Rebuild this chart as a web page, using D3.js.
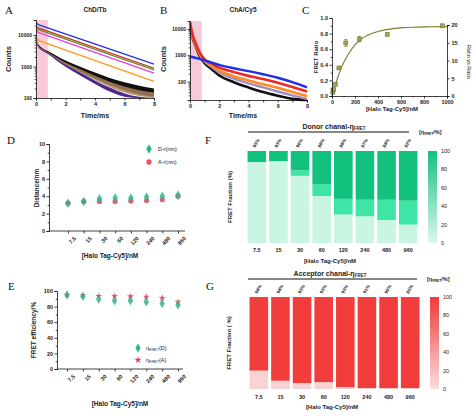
<!DOCTYPE html>
<html><head><meta charset="utf-8">
<script src="https://cdn.jsdelivr.net/npm/d3@7"></script>
<style>
body{margin:0;background:#fff}
svg{display:block;font-family:"Liberation Sans",Arial,sans-serif}
</style></head><body>
<svg id="c" width="474" height="416"></svg>
<script>
// ---------------- DATA ----------------
// Panel A (ChD/Tb) – slow single-exponential donor decays
const aSlowTimes = [0, 0.2, 8];
const aBlue    = [24000, 21000, 1200];
const aRed     = [18000, 16500, 880];
const aGreen   = [16000, 14500, 780];
const aMagenta = [13500, 12000, 620];
const aOrange  = [8500, 6600, 340];
// Panel A – noisy fast-decaying curves (bands lo/hi)
const aBandTimes = [0, 0.05, 0.1, 0.2, 0.4, 0.8, 1.5, 2, 3, 4, 5, 6, 7, 8];
const aBlackHi  = [30000, 9000, 5800, 4700, 3900, 3100, 2050, 1550, 980, 640, 430, 315, 245, 200];
const aBlackLo  = [26000, 8000, 5100, 4150, 3450, 2700, 1650, 1200, 700, 410, 260, 175, 130, 110];
const aTanHi    = [27000, 8500, 5400, 4350, 3650, 2900, 1800, 1350, 820, 510, 330, 230, 175, 150];
const aTanLo    = [25500, 8000, 5000, 4050, 3350, 2650, 1550, 1120, 640, 370, 225, 150, 115, 100];
const aPurpleHi = [26000, 8200, 5150, 4150, 3450, 2750, 1600, 1150, 650, 360, 215, 140, 110, 100];
const aPurpleLo = [24500, 7700, 4750, 3850, 3200, 2500, 1420, 990, 520, 280, 160, 110, 100, 100];
// Panel B (ChA/Cy5)
const bTimes  = [0, 0.1, 0.2, 0.4, 0.6, 0.8, 1, 1.5, 2, 3, 4, 5, 6, 7, 8];
const bBlue   = [900, 870, 840, 790, 750, 700, 640, 520, 430, 320, 250, 190, 140, 95, 60];
const bRed    = [18000, 9000, 5500, 2800, 1500, 950, 700, 480, 340, 230, 165, 125, 90, 62, 42];
const bOrange = [16000, 8000, 5000, 2500, 1350, 850, 630, 400, 260, 160, 110, 80, 58, 40, 28];
const bPurple = [14000, 7500, 4700, 2300, 1250, 800, 580, 350, 220, 130, 85, 60, 42, 30, 22];
const bBlack  = [12000, 7000, 4300, 2100, 1100, 700, 500, 290, 170, 95, 60, 40, 29, 22, 20];
// Panel C
const cConc   = [7.5, 15, 30, 60, 120, 240, 480, 960];
const cRatio  = [0.05, 0.08, 0.15, 0.36, 0.68, 0.73, 0.79, 0.90];
const cErr    = [0.01, 0.01, 0.01, 0.015, 0.045, 0.035, 0.015, 0.01];
const cFitX   = [0, 10, 25, 50, 75, 100, 150, 200, 250, 300, 400, 500, 600, 700, 800, 1000];
const cFitY   = [0, 0.05, 0.12, 0.24, 0.34, 0.43, 0.56, 0.66, 0.73, 0.78, 0.83, 0.86, 0.875, 0.883, 0.887, 0.89];
// Categories for D–G
const categories = ["7.5", "15", "30", "60", "120", "240", "480", "960"];
// Panel D
const dDonor    = [3.2, 3.4, 3.7, 3.8, 3.8, 3.9, 4.0, 4.1];
const dAcceptor = [3.2, 3.4, 3.4, 3.4, 3.45, 3.5, 3.6, 4.0];
// Panel E
const eDonor    = [95, 93, 89.5, 87.5, 87.5, 86, 84, 82];
const eAcceptor = [95, 94.5, 93.5, 93.5, 93, 92.5, 91, 86];
// Panel F (donor channel fractions, %)
const fLow  = [88, 89, 73, 51, 31, 29, 25, 20];
const fMid  = [0, 0, 6, 13, 17, 18, 22, 26];
const fHigh = [12, 11, 21, 36, 52, 53, 53, 54];
const fLabels = ["95%", "93%", "90%", "88%", "88%", "87%", "84%", "82%"];
// Panel G (acceptor channel fractions, %)
const gLow  = [20, 9, 6.5, 7.5, 2, 1, 1, 1];
const gHigh = [80, 91, 93.5, 92.5, 98, 99, 99, 99];
const gLabels = ["94%", "94%", "93%", "93%", "93%", "91%", "90%", "85%"];
const barTicks = [0, 20, 40, 60, 80, 100];

// ---------------- HELPERS ----------------
const svg = d3.select("#c");
const FONT = '"Liberation Sans", Arial, sans-serif';
const defs = svg.append("defs");

function styleAxis(g, fs) {
  g.selectAll("path,line").attr("stroke", "#111").attr("stroke-width", 0.8);
  g.selectAll("text").attr("font-size", fs || 5.5).attr("font-weight", "bold")
    .attr("fill", "#222").attr("font-family", FONT);
}
function text(x, y, s, o) {
  o = o || {};
  const t = svg.append("text").attr("x", x).attr("y", y).text(s)
    .attr("font-size", o.size || 7).attr("font-weight", o.weight || "bold")
    .attr("text-anchor", o.anchor || "middle").attr("fill", o.fill || "#222")
    .attr("font-family", o.family || FONT);
  if (o.rotate) t.attr("transform", `rotate(${o.rotate},${x},${y})`);
  return t;
}
function letter(x, y, s) {
  text(x, y, s, {size: 11, weight: "normal", anchor: "start", family: '"Liberation Serif","Times New Roman",serif', fill: "#111"});
}
function logAxis(g, scale, majors, lo, hi) {
  const vals = [];
  for (let p = 1; p <= 100000; p *= 10) for (let m = 1; m < 10; m++) {
    const v = m * p; if (v >= lo && v <= hi) vals.push(v);
  }
  const ax = d3.axisLeft(scale).tickValues(vals).tickSize(2.5).tickPadding(1.5)
    .tickFormat(v => majors.includes(v) ? String(v) : "");
  g.call(ax);
  g.selectAll(".tick").filter(v => !majors.includes(v)).select("line").attr("x2", -1.3);
  styleAxis(g, 5);
}

// ---------------- PANEL A ----------------
{
  const x = d3.scaleLinear().domain([0, 8]).range([36, 154]);
  const y = d3.scaleLog().domain([100, 30000]).range([98, 20]).clamp(true);
  svg.append("rect").attr("x", x(0)).attr("width", x(0.8) - x(0))
    .attr("y", y(30000)).attr("height", y(100) - y(30000)).attr("fill", "#f8c9d6");
  const area = (lo, hi) => d3.area().x((d, i) => x(aBandTimes[i]))
    .y0((d, i) => y(lo[i])).y1((d, i) => y(hi[i])).curve(d3.curveMonotoneX)(aBandTimes);
  svg.append("path").attr("d", area(aBlackLo, aBlackHi)).attr("fill", "#111");
  svg.append("path").attr("d", area(aTanLo, aTanHi)).attr("fill", "#a8825a").attr("opacity", 0.85);
  svg.append("path").attr("d", area(aPurpleLo, aPurpleHi)).attr("fill", "#4b2a8a");
  const line = vals => d3.line().x((d, i) => x(aSlowTimes[i])).y((d, i) => y(vals[i])).curve(d3.curveLinear)(aSlowTimes);
  [[aOrange, "#ff9a1a"], [aMagenta, "#e040e0"], [aGreen, "#6a8a2a"], [aRed, "#c0301a"], [aBlue, "#2233dd"]]
    .forEach(([v, c]) => svg.append("path").attr("d", line(v)).attr("fill", "none").attr("stroke", c).attr("stroke-width", 1.3));
  const gx = svg.append("g").attr("transform", `translate(0,${y(100)})`)
    .call(d3.axisBottom(x).tickValues([0, 1, 2, 3, 4, 5, 6, 7, 8]).tickSize(2.5).tickPadding(1.5)
      .tickFormat(v => v % 2 === 0 ? v : ""));
  styleAxis(gx, 5.5);
  const gy = svg.append("g").attr("transform", `translate(${x(0)},0)`);
  logAxis(gy, y, [100, 1000, 10000], 100, 30000);
  text(95, 12, "ChD/Tb", {size: 6.5});
  text(95, 118, "Time/ms", {size: 7});
  text(11, 59, "Counts", {size: 7.5, rotate: -90});
  letter(5, 14, "A");
}

// ---------------- PANEL B ----------------
{
  const x = d3.scaleLinear().domain([0, 8]).range([190, 307]);
  const y = d3.scaleLog().domain([20, 20000]).range([100, 21]).clamp(true);
  svg.append("rect").attr("x", x(0)).attr("width", x(0.8) - x(0))
    .attr("y", y(20000)).attr("height", y(20) - y(20000)).attr("fill", "#f8c9d6");
  const line = vals => d3.line().x((d, i) => x(bTimes[i])).y((d, i) => y(vals[i])).curve(d3.curveMonotoneX)(bTimes);
  [[bBlack, "#111", 2.6], [bPurple, "#a58ac8", 2.4], [bOrange, "#ff8c1a", 2.6], [bRed, "#f02828", 2.6], [bBlue, "#2030e8", 2.4]]
    .forEach(([v, c, w]) => svg.append("path").attr("d", line(v)).attr("fill", "none").attr("stroke", c).attr("stroke-width", w));
  const gx = svg.append("g").attr("transform", `translate(0,${y(20)})`)
    .call(d3.axisBottom(x).tickValues([0, 1, 2, 3, 4, 5, 6, 7, 8]).tickSize(2.5).tickPadding(1.5)
      .tickFormat(v => v % 2 === 0 ? v : ""));
  styleAxis(gx, 5.5);
  const gy = svg.append("g").attr("transform", `translate(${x(0)},0)`);
  logAxis(gy, y, [100, 1000, 10000], 20, 20000);
  text(243, 12, "ChA/Cy5", {size: 6.5});
  text(243, 118, "Time/ms", {size: 7});
  text(166, 59, "Counts", {size: 7.5, rotate: -90});
  letter(160, 14, "B");
}

// ---------------- PANEL C ----------------
{
  const x = d3.scaleLinear().domain([0, 1000]).range([332, 447]);
  const y = d3.scaleLinear().domain([0, 1]).range([96, 18]);
  const y2 = d3.scaleLinear().domain([0, 20]).range([96, 25]);
  svg.append("path").attr("d", d3.line().x((d, i) => x(cFitX[i])).y((d, i) => y(cFitY[i])).curve(d3.curveBasis)(cFitX))
    .attr("fill", "none").attr("stroke", "#7a7a2e").attr("stroke-width", 1.1);
  cConc.forEach((c, i) => {
    svg.append("line").attr("x1", x(c)).attr("x2", x(c)).attr("y1", y(cRatio[i] - cErr[i])).attr("y2", y(cRatio[i] + cErr[i]))
      .attr("stroke", "#6b6b25").attr("stroke-width", 0.7);
    [cRatio[i] - cErr[i], cRatio[i] + cErr[i]].forEach(v =>
      svg.append("line").attr("x1", x(c) - 1.5).attr("x2", x(c) + 1.5).attr("y1", y(v)).attr("y2", y(v))
        .attr("stroke", "#6b6b25").attr("stroke-width", 0.7));
    svg.append("rect").attr("x", x(c) - 2).attr("y", y(cRatio[i]) - 2).attr("width", 4).attr("height", 4)
      .attr("fill", "#a3a355").attr("stroke", "#6b6b25").attr("stroke-width", 0.5);
  });
  const gx = svg.append("g").attr("transform", `translate(0,${y(0)})`)
    .call(d3.axisBottom(x).tickValues(d3.range(0, 1001, 100)).tickSize(2.5).tickPadding(1.5)
      .tickFormat(v => v % 200 === 0 ? v : ""));
  gx.selectAll(".tick").filter(v => v % 200 !== 0).select("line").attr("y2", 1.3);
  styleAxis(gx, 5.5);
  const gy = svg.append("g").attr("transform", `translate(${x(0)},0)`)
    .call(d3.axisLeft(y).tickValues(d3.range(0, 1.01, 0.1)).tickSize(2.5).tickPadding(1.5)
      .tickFormat(v => Math.round(v * 10) % 2 === 0 ? d3.format(".1f")(v) : ""));
  gy.selectAll(".tick").filter(v => Math.round(v * 10) % 2 !== 0).select("line").attr("x2", -1.3);
  styleAxis(gy, 5.5);
  const gy2 = svg.append("g").attr("transform", `translate(${x(1000)},0)`)
    .call(d3.axisRight(y2).tickValues([0, 5, 10, 15, 20]).tickSize(2.5).tickPadding(2));
  styleAxis(gy2, 5.5);
  text(392, 111, "[Halo Tag-Cy5]/nM", {size: 6});
  text(318, 57, "FRET Ratio", {size: 6, rotate: -90});
  text(467, 62, "Ratio vs Ratio", {size: 5.5, rotate: 90, weight: "normal"});
  letter(302, 14, "C");
}

// ---------------- PANEL D ----------------
{
  const x = d3.scalePoint().domain(categories).range([68, 178]);
  const y = d3.scaleLinear().domain([0, 10]).range([231, 144]);
  svg.append("line").attr("x1", 49).attr("x2", 185).attr("y1", y(0)).attr("y2", y(0)).attr("stroke", "#111").attr("stroke-width", 0.8);
  const gx = svg.append("g").attr("transform", `translate(0,${y(0)})`)
    .call(d3.axisBottom(x).tickSize(2.5).tickPadding(2));
  gx.select(".domain").remove();
  styleAxis(gx, 5.5);
  gx.selectAll("text").attr("text-anchor", "end").attr("transform", "translate(2,2) rotate(-45)");
  const gy = svg.append("g").attr("transform", "translate(49,0)")
    .call(d3.axisLeft(y).tickValues(d3.range(0, 11, 1)).tickSize(2.5).tickPadding(1.5).tickFormat(v => v % 2 === 0 ? v : ""));
  gy.selectAll(".tick").filter(v => v % 2 !== 0).select("line").attr("x2", -1.3);
  styleAxis(gy, 5.5);
  const sym = d3.symbol().type(d3.symbolDiamond).size(26);
  const sym2 = d3.symbol().type(d3.symbolCircle).size(22);
  categories.forEach((c, i) => {
    svg.append("path").attr("d", sym2()).attr("transform", `translate(${x(c)},${y(dAcceptor[i])})`).attr("fill", "#ee5060").attr("opacity", 0.9);
    svg.append("path").attr("d", sym()).attr("transform", `translate(${x(c)},${y(dDonor[i])})`).attr("fill", "#2db38a").attr("opacity", 0.85);
  });
  svg.append("path").attr("d", sym()).attr("transform", "translate(149,149)").attr("fill", "#2db38a");
  svg.append("path").attr("d", sym2()).attr("transform", "translate(149,162)").attr("fill", "#ee5060");
  text(158, 151, "D-r(nm)", {size: 5.5, weight: "normal", anchor: "start"});
  text(158, 164, "A-r(nm)", {size: 5.5, weight: "normal", anchor: "start"});
  text(110, 258, "[Halo Tag-Cy5]/nM", {size: 6.5});
  text(39, 188, "Distance/nm", {size: 6.5, rotate: -90});
  letter(7, 144, "D");
}

// ---------------- PANEL E ----------------
{
  const x = d3.scalePoint().domain(categories).range([67, 178]);
  const y = d3.scaleLinear().domain([0, 100]).range([369, 291]);
  svg.append("line").attr("x1", 57).attr("x2", 183).attr("y1", y(0)).attr("y2", y(0)).attr("stroke", "#111").attr("stroke-width", 0.8);
  const gx = svg.append("g").attr("transform", `translate(0,${y(0)})`)
    .call(d3.axisBottom(x).tickSize(2.5).tickPadding(2));
  gx.select(".domain").remove();
  styleAxis(gx, 5.5);
  gx.selectAll("text").attr("text-anchor", "end").attr("transform", "translate(2,2) rotate(-45)");
  const gy = svg.append("g").attr("transform", "translate(57,0)")
    .call(d3.axisLeft(y).tickValues(d3.range(0, 101, 10)).tickSize(2.5).tickPadding(1.5).tickFormat(v => v % 20 === 0 ? v : ""));
  gy.selectAll(".tick").filter(v => v % 20 !== 0).select("line").attr("x2", -1.3);
  styleAxis(gy, 5.5);
  const sym = d3.symbol().type(d3.symbolDiamond).size(24);
  const sym2 = d3.symbol().type(d3.symbolStar).size(15);
  categories.forEach((c, i) => {
    svg.append("path").attr("d", sym2()).attr("transform", `translate(${x(c)},${y(eAcceptor[i])})`).attr("fill", "#e8404f").attr("opacity", 0.9);
    svg.append("path").attr("d", sym()).attr("transform", `translate(${x(c)},${y(eDonor[i])})`).attr("fill", "#2db38a").attr("opacity", 0.85);
  });
  svg.append("path").attr("d", sym()).attr("transform", "translate(138,348)").attr("fill", "#2db38a");
  svg.append("path").attr("d", sym2()).attr("transform", "translate(138,360)").attr("fill", "#e8404f");
  [["(D)", 350], ["(A)", 362]].forEach(([s, yy]) => {
    const t = text(146, yy, "η", {size: 5.5, weight: "normal", anchor: "start"});
    t.append("tspan").attr("font-size", 3.8).attr("dy", 1.2).text("FRET");
    t.append("tspan").attr("dy", -1.2).text(s);
  });
  text(120, 406, "[Halo Tag-Cy5]/nM", {size: 6.5});
  text(36, 330, "FRET efficiency/%", {size: 6.5, rotate: -90});
  letter(8, 290, "E");
}

// ---------------- PANELS F & G ----------------
function stackedPanel(o) {
  const x = d3.scaleBand().domain(categories).range(o.xr).paddingInner(0.14).paddingOuter(0.07);
  const y = d3.scaleLinear().domain([0, 100]).range(o.yr);
  const rows = categories.map((c, i) => {
    const r = {cat: c}; o.series.forEach((s, k) => r["s" + k] = s[i]); return r;
  });
  const stack = d3.stack().keys(o.series.map((s, k) => "s" + k))(rows);
  stack.forEach((layer, k) => {
    layer.forEach(d => {
      if (d[1] - d[0] <= 0) return;
      svg.append("rect").attr("x", x(d.data.cat)).attr("width", x.bandwidth())
        .attr("y", y(d[1])).attr("height", y(d[0]) - y(d[1])).attr("fill", o.colors[k]);
    });
  });
  categories.forEach((c, i) => {
    text(x(c) + x.bandwidth() / 2, o.xLabY, c, {size: 5.5});
    const lx = x(c) + x.bandwidth() / 2 - 1.5, ly = o.pctY;
    text(lx, ly, o.labels[i], {size: 4.6, anchor: "start", rotate: -60});
  });
  // colorbar
  const gid = o.id + "grad";
  const grad = defs.append("linearGradient").attr("id", gid).attr("x1", 0).attr("y1", 1).attr("x2", 0).attr("y2", 0);
  grad.append("stop").attr("offset", "0%").attr("stop-color", o.cbLow);
  grad.append("stop").attr("offset", "100%").attr("stop-color", o.cbHigh);
  svg.append("rect").attr("x", o.cbX).attr("width", 9).attr("y", y(100)).attr("height", y(0) - y(100)).attr("fill", `url(#${gid})`);
  barTicks.forEach(t => text(o.cbX + 13, y(t) + 2, String(t), {size: 5.5, weight: "normal", anchor: "start"}));
  // title line
  svg.append("line").attr("x1", 248).attr("x2", o.lineEnd).attr("y1", o.lineY).attr("y2", o.lineY).attr("stroke", "#111").attr("stroke-width", 1);
  const tt = text(o.titleX, o.lineY - 3, o.title, {size: 7});
  tt.append("tspan").attr("font-size", 4.5).attr("dy", 0.5).text("FRET");
  const br = text(o.lineEnd + 10, o.lineY + 2, "[η", {size: 5.5, anchor: "start"});
  br.append("tspan").attr("font-size", 3.5).attr("dy", 1).text("FRET");
  br.append("tspan").attr("dy", -1).text("/%]");
  text(o.xr[0] + 84, o.xTitleY, "[Halo Tag-Cy5]/nM", {size: 6});
  text(o.yLabX, (o.yr[0] + o.yr[1]) / 2, o.yLab, {size: 6, rotate: -90});
}
stackedPanel({
  id: "f", xr: [246, 419], yr: [243, 151], series: [fLow, fMid, fHigh],
  colors: ["#c9f5e3", "#3fe5a6", "#13c17f"], labels: fLabels,
  xLabY: 252, pctY: 148, cbX: 428, cbLow: "#dcf8ee", cbHigh: "#13c17f",
  lineY: 132, lineEnd: 409, title: "Donor chanal-η", titleX: 334,
  xTitleY: 263, yLabX: 232, yLab: "FRET Fraction (%)"
});
letter(205, 144, "F");
stackedPanel({
  id: "g", xr: [248, 421], yr: [389, 297], series: [gLow, gHigh],
  colors: ["#f7d3d3", "#f23d3d"], labels: gLabels,
  xLabY: 399, pctY: 294, cbX: 430, cbLow: "#f9dede", cbHigh: "#ef3a3a",
  lineY: 279, lineEnd: 417, title: "Acceptor chanal-η", titleX: 330,
  xTitleY: 409, yLabX: 231, yLab: "FRET Fraction ( %)"
});
letter(206, 290, "G");
</script>
</body></html>
